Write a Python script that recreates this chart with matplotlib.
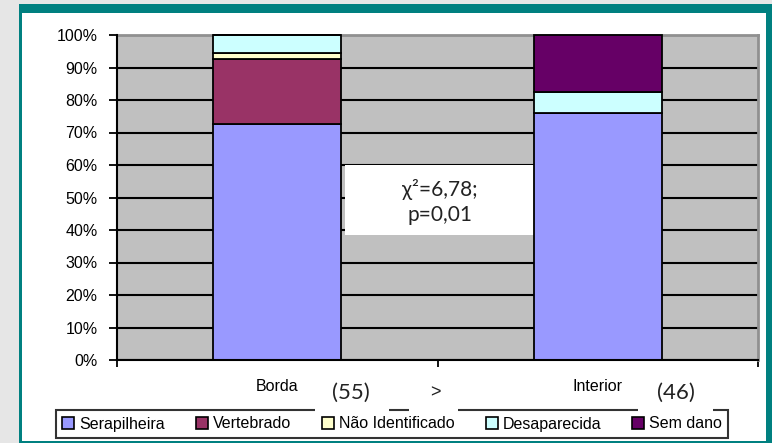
import numpy as np
import matplotlib
matplotlib.use('Agg')
import matplotlib.pyplot as plt
from matplotlib.patches import Rectangle

# counts per site (total n in parentheses under each bar)
sites = ['Borda', 'Interior']
n_sites = ['(55)', '(46)']
categories = ['Serapilheira', 'Vertebrado', 'Não Identificado', 'Desaparecida', 'Sem dano']
serapilheira = [40, 35]
vertebrado = [11, 0]
nao_ident = [1, 0]
desaparecida = [3, 3]
sem_dano = [0, 8]
colors = ['#9999ff', '#993366', '#ffffcc', '#ccffff', '#660066']
stat_text = 'χ²=6,78;\np=0,01'

totals = np.array([55, 46])
series = [serapilheira, vertebrado, nao_ident, desaparecida, sem_dano]
pct = [np.array(s) / totals * 100 for s in series]

W, H = 772, 443
fig = plt.figure(figsize=(W / 100, H / 100), dpi=100, facecolor='#e6e6e6')

# teal frame + white panel
fig.patches.append(Rectangle((19 / W, 0), 753 / W, 439 / H, transform=fig.transFigure,
                             facecolor='#008080', edgecolor='none', zorder=-2))
fig.patches.append(Rectangle((22 / W, 2 / H), 744 / W, 428 / H, transform=fig.transFigure,
                             facecolor='white', edgecolor='none', zorder=-1))

ax = fig.add_axes([117 / W, 83 / H, 641 / W, 325 / H])
ax.set_facecolor('#c0c0c0')

x = np.arange(len(sites))
bottom = np.zeros(len(sites))
handles = []
for vals, name, c in zip(pct, categories, colors):
    b = ax.bar(x, vals, 0.4, bottom=bottom, color=c, edgecolor='black', linewidth=1.3,
               label=name, zorder=3, clip_on=False)
    handles.append(b)
    bottom += vals

ax.set_xlim(-0.5, 1.5)
ax.set_ylim(0, 100)
ax.set_yticks(np.arange(0, 101, 10))
ax.set_yticklabels([f'{v}%' for v in range(0, 101, 10)], fontsize=11.5, family='Liberation Sans')
ax.yaxis.grid(True, color='black', linewidth=1.5)
ax.set_axisbelow(True)
ax.tick_params(axis='y', length=6, width=1.3, pad=8)

ax.set_xticks(x)
ax.set_xticklabels(sites, fontsize=11.5, family='Liberation Sans')
ax.tick_params(axis='x', which='major', length=0, pad=14)
ax.set_xticks([-0.5, 0.5, 1.5], minor=True)
ax.tick_params(axis='x', which='minor', length=5, width=1.3)

for s in ['left', 'bottom']:
    ax.spines[s].set_color('black')
    ax.spines[s].set_linewidth(1.5)
    ax.spines[s].set_zorder(4)
for s in ['top', 'right']:
    ax.spines[s].set_color('#909090')
    ax.spines[s].set_linewidth(2)
    ax.spines[s].set_zorder(1)

# stats box between the bars
ax.add_patch(Rectangle((0.21, 38.5), 0.595, 21.5, facecolor='white', edgecolor='none', zorder=2.5))
ax.text(0.508, 48.5, stat_text, ha='center', va='center', fontsize=15,
        family=['Lato', 'DejaVu Sans'], color='#222222', linespacing=1.3, zorder=3)

leg = fig.legend(handles=handles, loc='center', bbox_to_anchor=(392 / W, 1 - 424 / H),
                 ncol=5, frameon=True, fancybox=False,
                 prop={'family': 'Liberation Sans', 'size': 11.5},
                 handlelength=0.75, handleheight=0.75, handletextpad=0.3,
                 columnspacing=1.95, borderpad=0.4, borderaxespad=0)
leg.get_frame().set_edgecolor('black')
leg.get_frame().set_linewidth(1.5)
leg.set_zorder(5)
for p in leg.get_patches():
    p.set_edgecolor('black')
    p.set_linewidth(1.2)

# n labels and ">" sit on white boxes that cut into the legend border
for x0, w in [(315, 74), (409, 49), (638, 75)]:
    fig.patches.append(Rectangle((x0 / W, 1 - 412.5 / H), w / W, 36 / H, transform=fig.transFigure,
                                 facecolor='white', edgecolor='none', zorder=6))
fig.text(351 / W, 1 - 393 / H, n_sites[0], ha='center', va='center', fontsize=16,
         family='Lato', color='#222222', zorder=7)
fig.text(676 / W, 1 - 393 / H, n_sites[1], ha='center', va='center', fontsize=16,
         family='Lato', color='#222222', zorder=7)
fig.text(435 / W, 1 - 393 / H, '>', ha='center', va='center', fontsize=13,
         family='Liberation Sans', color='#222222', zorder=7)

fig.savefig('out.png', dpi=100, facecolor=fig.get_facecolor())
